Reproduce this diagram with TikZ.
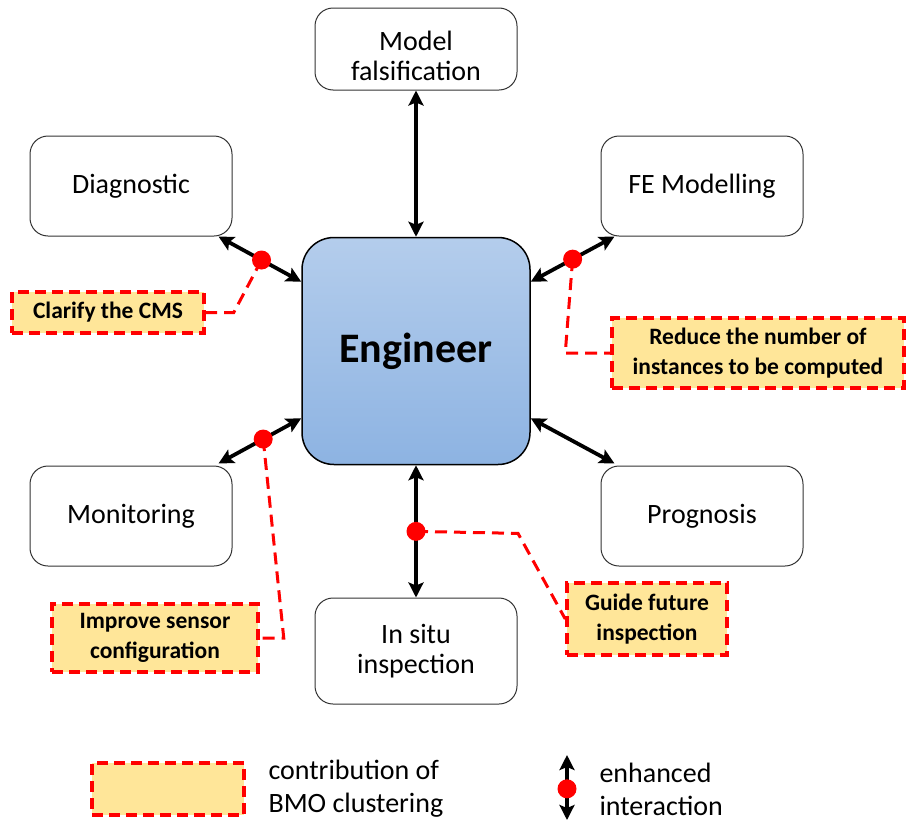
\documentclass[tikz,border=0pt]{standalone}
\usepackage{fontspec}
\setmainfont{Carlito}
\usetikzlibrary{arrows.meta,calc}
\definecolor{cred}{RGB}{255,0,0}
\definecolor{cfill}{RGB}{255,230,153}
\definecolor{engtop}{RGB}{180,205,236}
\definecolor{engbot}{RGB}{141,179,226}
\begin{document}
\begin{tikzpicture}[x=1pt,y=-1pt,
 box/.style={draw=black!80, line width=1pt, rounded corners=18pt, minimum width=202pt, minimum height=100pt, inner sep=0pt, align=center, font=\fontsize{28}{30}\selectfont, fill=white},
 call/.style={draw=cred, dash pattern=on 11pt off 6pt, line width=3.5pt, fill=cfill, inner sep=0pt, align=center, font=\bfseries\fontsize{23.5}{30}\selectfont},
 biarrow/.style={line width=3.8pt, {Stealth[length=15pt,width=15pt,inset=3pt]}-{Stealth[length=15pt,width=15pt,inset=3pt]}},
 cline/.style={draw=cred, line width=3pt, dash pattern=on 12pt off 7pt},
 dot/.style={circle, fill=cred, minimum size=19pt, inner sep=0pt},
 plain/.style={inner sep=0pt, align=center, font=\fontsize{28}{30}\selectfont},
 legtext/.style={anchor=west, align=left, font=\fontsize{28}{33}\selectfont}]
\useasboundingbox (0,0) rectangle (907,822);

% Engineer
\node[draw=black, line width=1.5pt, rounded corners=32pt, top color=engtop, bottom color=engbot,
  minimum width=228pt, minimum height=227pt, inner sep=0pt,
  font=\bfseries\fontsize{42}{44}\selectfont] (eng) at (416,351) {Engineer};

% Satellite boxes
\node[box, minimum height=82pt] (model) at (416,49) {};
\node[plain] (modeltext) at (416,56) {Model\\falsification};
\node[box] (diag) at (131,186) {Diagnostic};
\node[box] (fem) at (702,186) {FE Modelling};
\node[box] (mon) at (131,516) {Monitoring};
\node[box] (prog) at (702,516) {Prognosis};
\node[box, minimum height=106pt] (insitu) at (416,651) {In situ\\inspection};

% Connectors
\draw[biarrow] (model.south) -- (eng.north);
\draw[biarrow] ($(diag.south east)+(-14,0)$) -- coordinate[pos=0.52] (d1) ($(eng.north west)+(0,45)$);
\draw[biarrow] ($(eng.north east)+(0,45)$) -- coordinate[pos=0.5] (d2) ($(fem.south west)+(14,0)$);
\draw[biarrow] ($(mon.north east)+(-14,-2)$) -- coordinate[pos=0.54] (d3) ($(eng.south west)+(0,-47)$);
\draw[biarrow] ($(eng.south east)+(0,-47)$) -- ($(prog.north west)+(14,-2)$);
\draw[biarrow] (eng.south) -- coordinate[pos=0.5] (d4) (insitu.north);

% Callouts
\node[call, minimum width=192pt, minimum height=41pt] (clar) at (108,312.5) {Clarify the CMS};
\node[call, minimum width=292pt, minimum height=70pt] (red) at (758,353) {Reduce the number of\\instances to be computed};
\node[call, minimum width=206pt, minimum height=68pt] (imp) at (155,638) {Improve sensor\\configuration};
\node[call, minimum width=160pt, minimum height=72pt] (guide) at (647,619) {Guide future\\inspection};

\draw[cline] (d1) -- ($(clar.east)+(28,0)$) -- (clar.east);
\draw[cline] (d2) -- ($(red.west)+(-45,0)$) -- (red.west);
\draw[cline] (d3) -- ($(imp.east)+(24,0)$) -- (imp.east);
\draw[cline] (d4) -- ($(d4)+(102,2)$) -- (guide.west);

\node[dot] (dot1) at (d1) {};
\node[dot] (dot2) at (d2) {};
\node[dot] (dot3) at (d3) {};
\node[dot] (dot4) at (d4) {};

% Legend
\node[call, minimum width=152pt, minimum height=52pt] (legbox) at (168,789) {};
\node[legtext] (legt1) at (265,789) {contribution of\\BMO clustering};
\coordinate (la) at (567,755);
\coordinate (lb) at (567,820);
\draw[biarrow] (la) -- coordinate[pos=0.52] (ld) (lb);
\node[dot] (ldot) at (ld) {};
\node[legtext] (legt2) at (596,789) {enhanced\\interaction};
\end{tikzpicture}
\end{document}
